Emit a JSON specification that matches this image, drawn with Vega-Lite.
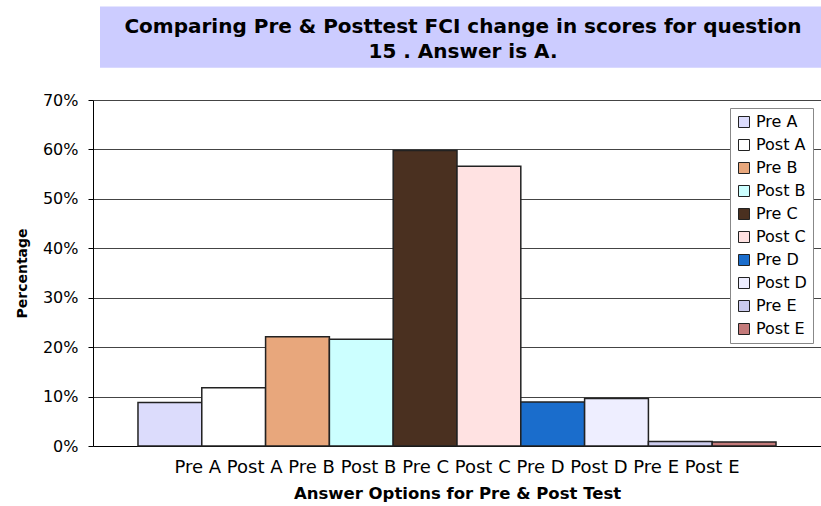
{
  "$schema": "https://vega.github.io/schema/vega-lite/v6.json",
  "width": 728,
  "height": 346,
  "autosize": {"type": "none"},
  "padding": {"left": 93, "top": 100, "right": 0, "bottom": 60},
  "background": "white",
  "title": {
    "text": ["Comparing Pre & Posttest FCI change in scores for question", "15 .  Answer is A."],
    "font": "DejaVu Sans",
    "fontSize": 20,
    "fontWeight": "bold",
    "color": "black",
    "anchor": "middle",
    "frame": "group",
    "dx": 6,
    "offset": -55,
    "lineHeight": 25
  },
  "config": {
    "view": {"stroke": null},
    "font": "DejaVu Sans"
  },
  "resolve": {"scale": {"x": "independent"}, "axis": {"x": "independent"}},
  "layer": [
    {
      "data": {"values": [{}]},
      "mark": {"type": "rect", "fill": "#ccccff", "stroke": null},
      "encoding": {
        "x": {"datum": 0.0096, "type": "quantitative", "scale": {"domain": [0, 1]}, "axis": null},
        "x2": {"datum": 1},
        "y": {"datum": 0.765, "type": "quantitative"},
        "y2": {"datum": 0.889}
      }
    },
    {
      "data": {
        "values": [
          {"group": "Pre A Post A Pre B Post B Pre C Post C Pre D Post D Pre E Post E", "series": "Pre A", "value": 0.088},
          {"group": "Pre A Post A Pre B Post B Pre C Post C Pre D Post D Pre E Post E", "series": "Post A", "value": 0.118},
          {"group": "Pre A Post A Pre B Post B Pre C Post C Pre D Post D Pre E Post E", "series": "Pre B", "value": 0.221},
          {"group": "Pre A Post A Pre B Post B Pre C Post C Pre D Post D Pre E Post E", "series": "Post B", "value": 0.216},
          {"group": "Pre A Post A Pre B Post B Pre C Post C Pre D Post D Pre E Post E", "series": "Pre C", "value": 0.598},
          {"group": "Pre A Post A Pre B Post B Pre C Post C Pre D Post D Pre E Post E", "series": "Post C", "value": 0.566},
          {"group": "Pre A Post A Pre B Post B Pre C Post C Pre D Post D Pre E Post E", "series": "Pre D", "value": 0.089},
          {"group": "Pre A Post A Pre B Post B Pre C Post C Pre D Post D Pre E Post E", "series": "Post D", "value": 0.096},
          {"group": "Pre A Post A Pre B Post B Pre C Post C Pre D Post D Pre E Post E", "series": "Pre E", "value": 0.009},
          {"group": "Pre A Post A Pre B Post B Pre C Post C Pre D Post D Pre E Post E", "series": "Post E", "value": 0.008}
        ]
      },
      "mark": {"type": "bar", "stroke": "#222222", "strokeWidth": 1.5},
      "encoding": {
        "x": {
          "field": "group",
          "type": "nominal",
          "scale": {"paddingInner": 0, "paddingOuter": 0.0705},
          "axis": {
            "title": "Answer Options for Pre & Post Test",
            "titleFont": "DejaVu Sans",
            "titleFontSize": 16.5,
            "titleFontWeight": "bold",
            "titleColor": "black",
            "titlePadding": 9,
            "labelFont": "DejaVu Sans",
            "labelFontSize": 18,
            "labelColor": "black",
            "labelAngle": 0,
            "labelLimit": 800,
            "labelPadding": 12,
            "ticks": false,
            "tickSize": 0,
            "domainColor": "black",
            "domainWidth": 1
          }
        },
        "xOffset": {
          "field": "series",
          "type": "nominal",
          "sort": ["Pre A", "Post A", "Pre B", "Post B", "Pre C", "Post C", "Pre D", "Post D", "Pre E", "Post E"],
          "scale": {"paddingInner": 0, "paddingOuter": 0}
        },
        "y": {
          "field": "value",
          "type": "quantitative",
          "scale": {"domain": [0, 0.7], "nice": false},
          "axis": {
            "values": [0, 0.1, 0.2, 0.3, 0.4, 0.5, 0.6, 0.7],
            "format": ".0%",
            "title": "Percentage",
            "titleFont": "DejaVu Sans",
            "titleFontSize": 14,
            "titleFontWeight": "bold",
            "titleColor": "black",
            "titlePadding": 13,
            "labelFont": "DejaVu Sans",
            "labelFontSize": 16,
            "labelColor": "black",
            "labelPadding": 10,
            "tickSize": 5,
            "tickColor": "black",
            "domainColor": "black",
            "grid": true,
            "gridColor": "#444444",
            "gridWidth": 1
          }
        },
        "color": {
          "field": "series",
          "type": "nominal",
          "scale": {
            "domain": ["Pre A", "Post A", "Pre B", "Post B", "Pre C", "Post C", "Pre D", "Post D", "Pre E", "Post E"],
            "range": ["#dcdcfc", "#ffffff", "#e8a77c", "#ccffff", "#4a3020", "#ffe2e2", "#1a6dcc", "#eeeeff", "#ccccee", "#c47a7a"]
          },
          "legend": {
            "title": null,
            "orient": "top-right",
            "offset": 8,
            "strokeColor": "#888888",
            "fillColor": "white",
            "padding": 6,
            "symbolType": "square",
            "symbolSize": 121,
            "symbolStrokeColor": "#222222",
            "symbolStrokeWidth": 1,
            "symbolOpacity": 1,
            "labelFont": "DejaVu Sans",
            "labelFontSize": 16,
            "labelColor": "black",
            "labelOffset": 4,
            "rowPadding": 7
          }
        }
      }
    }
  ]
}
